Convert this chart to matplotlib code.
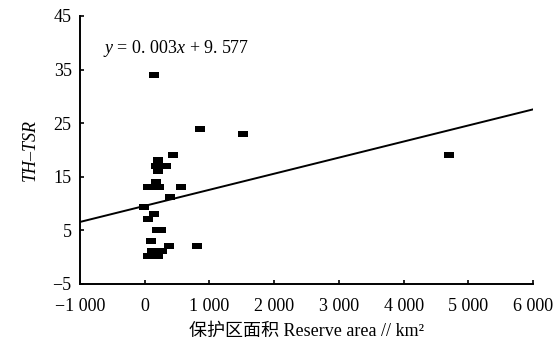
import matplotlib
matplotlib.use("Agg")
import matplotlib.pyplot as plt
from matplotlib.ticker import FuncFormatter
import numpy as np

# Data
area = [150, 855, 1520, 4700, 438, 212, 180, 335, 206, 170, 51, 128, 221, 561,
        391, -11, 144, 46, 196, 247, 103, 382, 808, 113, 273, 46, 128, 212]
thtsr = [34.0, 24.0, 23.0, 19.0, 19.0, 18.1, 17.0, 17.0, 16.1, 14.0, 13.1, 13.1, 13.1, 13.1,
         11.2, 9.3, 8.1, 7.1, 5.1, 5.1, 3.1, 2.1, 2.1, 1.2, 1.2, 0.2, 0.2, 0.2]
slope = 0.003
intercept = 9.577
xticks = [-1000, 0, 1000, 2000, 3000, 4000, 5000, 6000]
yticks = [-5, 5, 15, 25, 35, 45]

serif = ['Liberation Serif', 'Noto Sans CJK SC']
plt.rcParams['font.family'] = serif
plt.rcParams['mathtext.fontset'] = 'custom'
plt.rcParams['mathtext.rm'] = 'Liberation Serif'
plt.rcParams['mathtext.it'] = 'Liberation Serif:italic'

fig = plt.figure(figsize=(5.56, 3.5), dpi=100)
ax = fig.add_axes([80/556, 66/350, 453/556, 268/350])

rect = [(-1, -0.65), (1, -0.65), (1, 0.65), (-1, 0.65), (-1, -0.65)]
ax.plot(area, thtsr, linestyle='none', marker=rect, markersize=6.5,
        color='black', markeredgewidth=0)

xl = np.array([-1000, 6000])
ax.plot(xl, slope * xl + intercept, color='black', linewidth=1.4)

ax.set_xlim(-1000, 6000)
ax.set_ylim(-5, 45)
ax.set_xticks(xticks)
ax.set_yticks(yticks)

def fmt(v, pos):
    v = int(v)
    if abs(v) >= 1000:
        s = f"{abs(v):,}".replace(",", " ")
        return ("\u2212" if v < 0 else "") + s
    return ("\u2212" + str(abs(v))) if v < 0 else str(v)

ax.xaxis.set_major_formatter(FuncFormatter(fmt))
ax.yaxis.set_major_formatter(FuncFormatter(fmt))

for s in ['top', 'right']:
    ax.spines[s].set_visible(False)
for s in ['left', 'bottom']:
    ax.spines[s].set_linewidth(1.4)
ax.tick_params(direction='in', length=3, width=1.2, labelsize=13)
ax.tick_params(axis='x', pad=10)
ax.tick_params(axis='y', pad=6)

ax.set_ylabel('TH\u2013TSR', fontsize=13, style='italic', labelpad=10)
ax.set_xlabel('保护区面积 Reserve area // km\u00b2', fontsize=13, labelpad=6)

ax.text(0.05, 0.88, r'$y$ = 0. 003$x$ + 9. 577', transform=ax.transAxes,
        fontsize=13, ha='left', va='center')

fig.savefig('out.png', dpi=100)
